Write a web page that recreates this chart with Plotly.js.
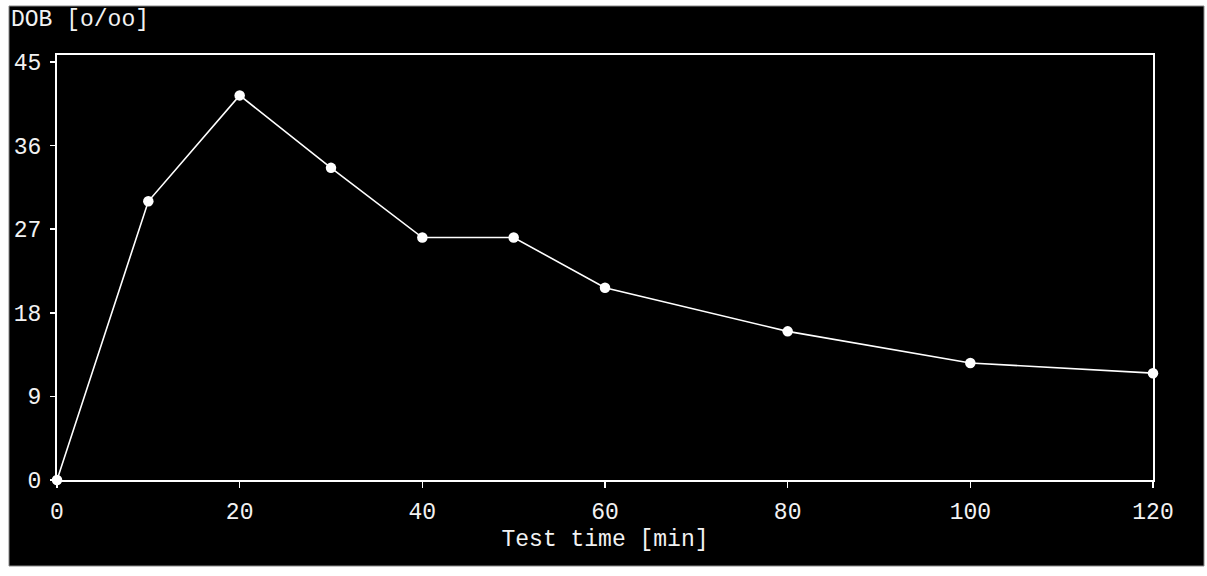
<!DOCTYPE html>
<html>
<head>
<meta charset="utf-8">
<script src="https://cdn.plot.ly/plotly-3.0.1.min.js"></script>
<style>html,body{margin:0;padding:0;background:#fff;}</style>
</head>
<body>
<div id="chart" style="width:1207px;height:576px;"></div>
<script>
const testTime = [0, 10, 20, 30, 40, 50, 60, 80, 100, 120];
const dobValues = [0, 30.0, 41.4, 33.6, 26.1, 26.1, 20.7, 16.0, 12.6, 11.5];
const yTicks = [0, 9, 18, 27, 36, 45];
const xTicks = [0, 20, 40, 60, 80, 100, 120];
const yLabel = 'DOB [o/oo]';
const xLabel = 'Test time [min]';

const font = {family: 'Liberation Mono, Courier New, monospace', size: 23, color: '#f2f2f2'};

const trace = {
  x: testTime, y: dobValues, type: 'scatter', mode: 'lines+markers',
  line: {color: '#ffffff', width: 1.6},
  marker: {color: '#ffffff', size: 10.5},
  cliponaxis: false, hoverinfo: 'x+y'
};

const layout = {
  width: 1207, height: 576,
  margin: {l: 57, r: 54, t: 55, b: 96},
  paper_bgcolor: '#ffffff', plot_bgcolor: '#000000',
  showlegend: false,
  font: font,
  title: {text: yLabel, font: font, xref: 'container', yref: 'container', x: 11/1207, y: 1 - 18/576, xanchor: 'left', yanchor: 'middle'},
  xaxis: {
    range: [0, 120], tickvals: xTicks, ticktext: xTicks.map(String),
    showgrid: false, zeroline: false, showline: true, mirror: true,
    linecolor: '#ffffff', linewidth: 2, ticks: 'outside', ticklen: 6, tickwidth: 1.5, tickcolor: '#ffffff',
    tickfont: font, ticklabelstandoff: 3,
    title: {text: xLabel, font: font, standoff: 5}
  },
  yaxis: {
    range: [0, 45.75], tickvals: yTicks, ticktext: yTicks.map(String),
    showgrid: false, zeroline: false, showline: true, mirror: true,
    linecolor: '#ffffff', linewidth: 2, ticks: 'outside', ticklen: 5, tickwidth: 1.5, tickcolor: '#ffffff',
    tickfont: font, ticklabelstandoff: 4
  },
  shapes: [{
    type: 'rect', xref: 'paper', yref: 'paper', layer: 'below',
    x0: (9 - 57) / 1096, x1: (1204 - 57) / 1096,
    y0: (480 - 566) / 425, y1: (480 - 6) / 425,
    fillcolor: '#000000', line: {color: '#888888', width: 1}
  }]
};

Plotly.newPlot('chart', [trace], layout, {displayModeBar: false, staticPlot: true});
</script>
</body>
</html>
